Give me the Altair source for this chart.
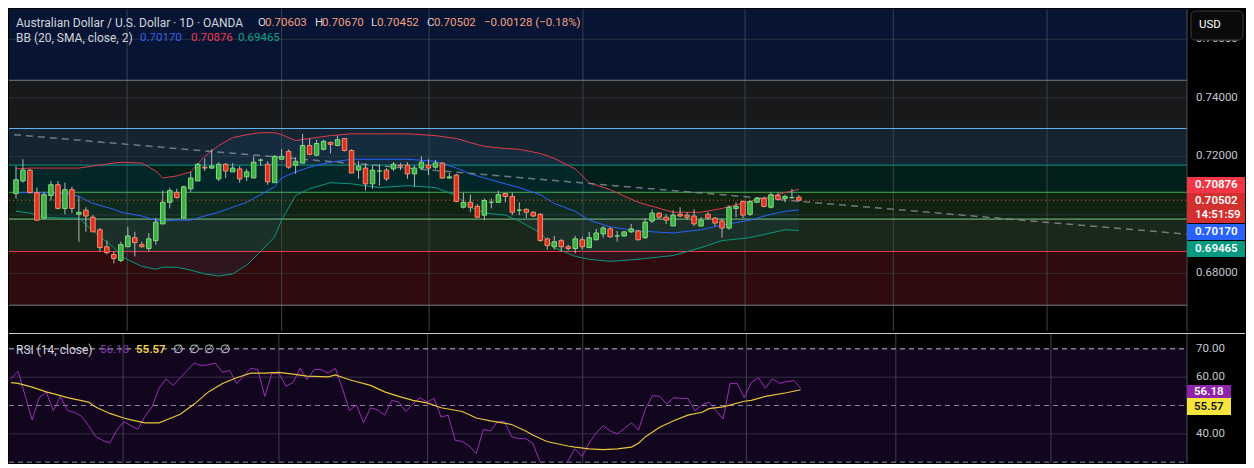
import altair as alt
import pandas as pd

# ---------------- data ----------------
opens = [0.7073, 0.7116, 0.7153, 0.7076, 0.6989, 0.7066, 0.7103, 0.7022, 0.7086, 0.7002,
         0.7016, 0.6992, 0.6949, 0.6891, 0.6865, 0.6844, 0.6891, 0.6922, 0.6898, 0.6885,
         0.6912, 0.6969, 0.7043, 0.7076, 0.6989, 0.7089, 0.7116, 0.7163, 0.7160, 0.7123,
         0.7173, 0.7147, 0.7157, 0.7130, 0.7126, 0.7187, 0.7173, 0.7110, 0.7190, 0.7217,
         0.7170, 0.7177, 0.7237, 0.7204, 0.7224, 0.7247, 0.7237, 0.7261, 0.7220, 0.7153,
         0.7160, 0.7106, 0.7150, 0.7153, 0.7157, 0.7170, 0.7170, 0.7140, 0.7160, 0.7170,
         0.7163, 0.7177, 0.7126, 0.7136, 0.7026, 0.7043, 0.7029, 0.6999, 0.7043, 0.7043,
         0.7073, 0.7063, 0.7016, 0.7019, 0.7009, 0.7002, 0.6918, 0.6891, 0.6912, 0.6891,
         0.6885, 0.6915, 0.6888, 0.6915, 0.6935, 0.6952, 0.6928, 0.6928, 0.6942, 0.6945,
         0.6922, 0.6979, 0.7006, 0.6992, 0.6962, 0.7002, 0.6999, 0.6996, 0.6962, 0.7002,
         0.6989, 0.6979, 0.6955, 0.7022, 0.7046, 0.7002, 0.7043, 0.7056, 0.7026, 0.7066,
         0.7056, 0.7059, 0.70603]
highs = [0.7167, 0.7190, 0.7157, 0.7093, 0.7079, 0.7116, 0.7116, 0.7110, 0.7096, 0.7063,
         0.7026, 0.6999, 0.6955, 0.6912, 0.6875, 0.6908, 0.6959, 0.6942, 0.6908, 0.6938,
         0.6989, 0.7083, 0.7093, 0.7089, 0.7100, 0.7147, 0.7177, 0.7193, 0.7224, 0.7180,
         0.7177, 0.7177, 0.7167, 0.7157, 0.7200, 0.7193, 0.7183, 0.7204, 0.7224, 0.7224,
         0.7197, 0.7277, 0.7261, 0.7257, 0.7257, 0.7251, 0.7271, 0.7261, 0.7224, 0.7183,
         0.7177, 0.7170, 0.7173, 0.7160, 0.7180, 0.7177, 0.7180, 0.7170, 0.7200, 0.7190,
         0.7187, 0.7180, 0.7143, 0.7140, 0.7076, 0.7069, 0.7036, 0.7056, 0.7056, 0.7083,
         0.7076, 0.7076, 0.7043, 0.7022, 0.7012, 0.7006, 0.6922, 0.6928, 0.6918, 0.6898,
         0.6928, 0.6925, 0.6942, 0.6952, 0.6962, 0.6959, 0.6945, 0.6945, 0.6969, 0.6949,
         0.6989, 0.7019, 0.7009, 0.7002, 0.7016, 0.7026, 0.7009, 0.7019, 0.6992, 0.7009,
         0.6992, 0.6989, 0.7033, 0.7043, 0.7049, 0.7049, 0.7059, 0.7063, 0.7076, 0.7076,
         0.7069, 0.7089, 0.70670]
lows = [0.7056, 0.7110, 0.7073, 0.6979, 0.6985, 0.7049, 0.7019, 0.7002, 0.7006, 0.6908,
        0.6942, 0.6942, 0.6875, 0.6865, 0.6834, 0.6838, 0.6891, 0.6858, 0.6888, 0.6875,
        0.6898, 0.6969, 0.7022, 0.7056, 0.6989, 0.7079, 0.7116, 0.7150, 0.7157, 0.7116,
        0.7126, 0.7147, 0.7110, 0.7116, 0.7126, 0.7167, 0.7103, 0.7110, 0.7190, 0.7157,
        0.7140, 0.7177, 0.7204, 0.7200, 0.7220, 0.7210, 0.7234, 0.7217, 0.7143, 0.7123,
        0.7083, 0.7089, 0.7100, 0.7116, 0.7150, 0.7153, 0.7123, 0.7096, 0.7153, 0.7136,
        0.7157, 0.7123, 0.7123, 0.7043, 0.7022, 0.7009, 0.6989, 0.6982, 0.7022, 0.7043,
        0.7043, 0.6999, 0.6999, 0.6989, 0.6992, 0.6908, 0.6881, 0.6881, 0.6875, 0.6878,
        0.6868, 0.6881, 0.6888, 0.6912, 0.6922, 0.6922, 0.6908, 0.6925, 0.6938, 0.6912,
        0.6918, 0.6972, 0.6985, 0.6969, 0.6962, 0.6992, 0.6982, 0.6962, 0.6959, 0.6985,
        0.6962, 0.6922, 0.6949, 0.6992, 0.6989, 0.6996, 0.7043, 0.7026, 0.7022, 0.7049,
        0.7043, 0.7056, 0.70452]
closes = [0.7120, 0.7153, 0.7076, 0.6982, 0.7069, 0.7103, 0.7022, 0.7086, 0.7022, 0.7009,
          0.6996, 0.6942, 0.6888, 0.6871, 0.6851, 0.6898, 0.6928, 0.6905, 0.6891, 0.6918,
          0.6975, 0.7043, 0.7083, 0.7059, 0.7096, 0.7126, 0.7173, 0.7160, 0.7167, 0.7173,
          0.7150, 0.7160, 0.7123, 0.7147, 0.7180, 0.7187, 0.7113, 0.7200, 0.7200, 0.7163,
          0.7183, 0.7237, 0.7207, 0.7244, 0.7251, 0.7241, 0.7257, 0.7220, 0.7143, 0.7167,
          0.7106, 0.7153, 0.7150, 0.7123, 0.7173, 0.7167, 0.7140, 0.7160, 0.7180, 0.7160,
          0.7177, 0.7126, 0.7130, 0.7046, 0.7043, 0.7026, 0.6992, 0.7049, 0.7043, 0.7069,
          0.7063, 0.7009, 0.7016, 0.7009, 0.6996, 0.6912, 0.6895, 0.6908, 0.6891, 0.6885,
          0.6918, 0.6891, 0.6922, 0.6938, 0.6955, 0.6925, 0.6928, 0.6942, 0.6952, 0.6915,
          0.6975, 0.7006, 0.6992, 0.6982, 0.6999, 0.6996, 0.6992, 0.6969, 0.6982, 0.6989,
          0.6972, 0.6955, 0.7026, 0.7029, 0.6999, 0.7046, 0.7056, 0.7029, 0.7069, 0.7053,
          0.7063, 0.7059, 0.70502]

rsi_values = [59.4, 62.1, 53.5, 44.9, 52.8, 54.8, 48.2, 53.2, 48.2, 47.6,
              46.2, 42.9, 39.0, 37.7, 36.7, 41.3, 44.3, 42.9, 41.6, 46.2,
              49.5, 56.1, 59.4, 57.1, 59.8, 62.4, 65.0, 64.1, 64.4, 65.0,
              61.7, 62.4, 57.8, 60.4, 63.1, 62.7, 53.2, 61.4, 61.4, 56.8,
              58.1, 63.1, 59.1, 62.7, 62.7, 61.4, 63.1, 56.1, 48.2, 50.2,
              43.9, 49.2, 48.5, 46.6, 51.8, 51.2, 47.9, 50.5, 52.8, 51.2,
              52.5, 45.9, 46.6, 37.7, 37.3, 35.7, 33.0, 41.6, 41.0, 44.3,
              44.3, 39.0, 38.3, 38.3, 36.7, 30.4, 28.4, 26.4, 27.4, 30.4,
              34.7, 32.0, 36.7, 40.3, 42.9, 41.0, 40.0, 41.9, 43.9, 41.3,
              48.9, 53.5, 53.2, 50.5, 52.8, 52.5, 52.5, 48.2, 50.2, 51.2,
              48.2, 45.2, 57.8, 57.8, 52.8, 58.1, 59.8, 56.1, 59.4, 57.8,
              58.4, 58.8, 56.18]

rsi_ma_idx = [0, 1, 3, 5, 7, 8, 11, 12, 14, 16, 17, 19, 21, 22, 24, 26, 28, 30, 32, 34,
              36, 38, 40, 42, 45, 46, 48, 51, 53, 55, 57, 59, 61, 64, 66, 68, 71, 73, 74, 76,
              79, 80, 82, 84, 86, 88, 89, 90, 92, 94, 96, 98, 99, 101, 104, 105, 107, 110, 112]
rsi_ma_val = [58.1, 57.8, 56.5, 54.8, 53.5, 52.8, 51.2, 49.5, 47.2, 45.6, 44.9, 43.9, 43.9, 44.9, 46.9,
              50.5, 54.8, 57.8, 59.8, 61.4, 61.4, 61.7, 61.1, 60.4, 60.1, 60.8, 59.1, 57.1, 54.8, 53.2,
              51.8, 50.9, 49.2, 47.9, 45.6, 44.6, 43.3, 41.0, 39.6, 37.3, 35.7, 35.3, 34.7, 34.4, 34.7,
              35.3, 36.7, 39.0, 42.3, 44.6, 46.6, 47.6, 48.9, 49.5, 51.5, 51.8, 53.2, 54.5, 55.57]

bb_idx = [0, 2, 4, 7, 9, 11, 14, 15, 18, 20, 21, 23, 25, 27, 29, 31, 33, 35, 37, 38,
          40, 42, 45, 48, 52, 56, 60, 63, 65, 67, 70, 72, 75, 77, 80, 82, 85, 89, 94, 98,
          101, 105, 108, 110, 112]
bb_upper = [0.7157, 0.7160, 0.7160, 0.7160, 0.7160, 0.7167, 0.7177, 0.7180, 0.7177, 0.7150,
            0.7126, 0.7133, 0.7147, 0.7200, 0.7237, 0.7264, 0.7274, 0.7281, 0.7281, 0.7274,
            0.7254, 0.7261, 0.7271, 0.7277, 0.7277, 0.7277, 0.7271, 0.7261, 0.7247, 0.7234,
            0.7227, 0.7224, 0.7210, 0.7193, 0.7157, 0.7110, 0.7086, 0.7043, 0.7009, 0.7009,
            0.7022, 0.7046, 0.7063, 0.7076, 0.70876]
bb_mid = [0.7076, 0.7076, 0.7076, 0.7073, 0.7063, 0.7039, 0.7019, 0.7009, 0.6996, 0.6982,
          0.6979, 0.6982, 0.6982, 0.6996, 0.7009, 0.7026, 0.7043, 0.7069, 0.7096, 0.7126,
          0.7147, 0.7163, 0.7180, 0.7190, 0.7190, 0.7190, 0.7183, 0.7160, 0.7140, 0.7126,
          0.7106, 0.7093, 0.7069, 0.7039, 0.7012, 0.6982, 0.6959, 0.6945, 0.6938, 0.6949,
          0.6965, 0.6982, 0.7002, 0.7012, 0.70170]
bb_lower = [0.7012, 0.7006, 0.6992, 0.6989, 0.6989, 0.6945, 0.6888, 0.6858, 0.6824, 0.6814,
            0.6821, 0.6821, 0.6811, 0.6798, 0.6791, 0.6798, 0.6828, 0.6875, 0.6925, 0.6982,
            0.7066, 0.7089, 0.7110, 0.7106, 0.7093, 0.7100, 0.7093, 0.7066, 0.7026, 0.7006,
            0.6999, 0.6979, 0.6938, 0.6888, 0.6858, 0.6848, 0.6841, 0.6848, 0.6861, 0.6888,
            0.6912, 0.6922, 0.6938, 0.6949, 0.69465]

fib_levels = [0.66912, 0.68748, 0.69856, 0.70772, 0.71701, 0.72953, 0.74600]
fib_top = 0.79351
fib_line_colors = ["#787B86", "#F23645", "#81C784", "#4CAF50", "#089981", "#64B5F6", "#787B86"]
fib_zone_colors = ["#F23645", "#81C784", "#4CAF50", "#089981", "#64B5F6", "#787B86", "#2962FF"]

trend_idx = [-0.284, 168.5]
trend_price = [0.7274, 0.6932]

vgrid_idx = [15.9, 38.0, 59.1, 81.1, 104.3, 125.5, 147.5]
price_grid = [0.68, 0.70, 0.72, 0.74, 0.76]
price_ticks = [0.68, 0.72, 0.74, 0.76]          # 0.70000 is hidden behind the price tags
rsi_ticks = [70, 60, 40]
rsi_dashed = [70, 50, 30]
rsi_grid = [60, 40]
last_close = 0.70502

title_main = "Australian Dollar / U.S. Dollar · 1D · OANDA"
ohlc_letters = ["O", "H", "L", "C"]
ohlc_text = ["0.70603", "0.70670", "0.70452", "0.70502"]
change_text = "−0.00128 (−0.18%)"
bb_title = "BB (20, SMA, close, 2)"
bb_text = ["0.70170", "0.70876", "0.69465"]
rsi_title = "RSI (14, close)"
rsi_text = ["56.18", "55.57"]
price_tags = ["0.70876", "0.70502", "14:51:59", "0.70170", "0.69465"]

# ---------------- layout ----------------
W, H1, H2 = 1178, 322, 130
FONT = "Roboto"
FS = 11.5
xs = alt.Scale(domain=[-0.284, 166.8], nice=False, zero=False)
ys = alt.Scale(domain=[0.66030, 0.77037], nice=False, zero=False)
yr = alt.Scale(domain=[29.7, 75.6], nice=False, zero=False)
one = pd.DataFrame({"_": [0]})
AXIS_TXT = "#c3c6ce"
AXIS_LINE = "#4a4e59"


def txt(s, px, py, color, size=FS, weight="normal", align="left"):
    return alt.Chart(one).mark_text(
        text=s, align=align, baseline="middle", font=FONT, fontSize=size,
        fontWeight=weight, color=color, clip=False
    ).encode(x=alt.value(px), y=alt.value(py))


def box(x0, x1, y0, y1, fill, stroke=None, radius=0):
    kw = dict(color=fill, clip=False, cornerRadius=radius)
    if stroke:
        kw.update(stroke=stroke, strokeWidth=1)
    return alt.Chart(one).mark_rect(**kw).encode(
        x=alt.value(x0), x2=alt.value(x1), y=alt.value(y0), y2=alt.value(y1))


X = alt.X("i:Q", scale=xs, axis=None)


def YP(field):
    return alt.Y(field, scale=ys, axis=None)


def YR(field):
    return alt.Y(field, scale=yr, axis=None)


zones_df = pd.DataFrame({"lo": fib_levels, "hi": fib_levels[1:] + [fib_top],
                         "col": fib_zone_colors})
zones = alt.Chart(zones_df).mark_rect(opacity=0.2, clip=True).encode(
    x=alt.value(0), x2=alt.value(W), y=YP("lo:Q"), y2="hi:Q",
    color=alt.Color("col:N", scale=None))

grid_h = alt.Chart(pd.DataFrame({"p": price_grid})).mark_rule(
    color="#363a45", strokeWidth=1, opacity=0.7, clip=True).encode(
    y=YP("p:Q"), x=alt.value(0), x2=alt.value(W))

grid_v = alt.Chart(pd.DataFrame({"i": vgrid_idx})).mark_rule(
    color="#3d414c", strokeWidth=1).encode(x=X)

fib_lines = alt.Chart(pd.DataFrame({"p": fib_levels, "col": fib_line_colors})).mark_rule(
    strokeWidth=1).encode(
    y=YP("p:Q"), x=alt.value(0), x2=alt.value(W), color=alt.Color("col:N", scale=None))

bb = pd.DataFrame({"i": bb_idx, "u": bb_upper, "m": bb_mid, "l": bb_lower})
bb_fill = alt.Chart(bb).mark_area(color="#2196F3", opacity=0.07).encode(
    x=X, y=YP("u:Q"), y2="l:Q")
bb_u = alt.Chart(bb).mark_line(color="#E03A4E", strokeWidth=1).encode(x=X, y=YP("u:Q"))
bb_m = alt.Chart(bb).mark_line(color="#2962FF", strokeWidth=1).encode(x=X, y=YP("m:Q"))
bb_l = alt.Chart(bb).mark_line(color="#089981", strokeWidth=1).encode(x=X, y=YP("l:Q"))

trend = alt.Chart(pd.DataFrame({"i": trend_idx, "p": trend_price})).mark_line(
    color="#8a8d96", strokeWidth=1.5, strokeDash=[7, 5], opacity=0.8, clip=True).encode(
    x=X, y=YP("p:Q"))

price_line = alt.Chart(pd.DataFrame({"p": [last_close]})).mark_rule(
    color="#f0553f", strokeDash=[1, 3], strokeWidth=1).encode(
    y=YP("p:Q"), x=alt.value(0), x2=alt.value(W))

cd = pd.DataFrame({"i": list(range(len(opens))), "o": opens, "h": highs, "l": lows, "c": closes})
wicks = alt.Chart(cd).mark_rule(color="#b2b5be", strokeWidth=1).encode(
    x=X, y=YP("l:Q"), y2="h:Q")
up = alt.datum.c >= alt.datum.o
bodies = alt.Chart(cd).mark_bar(size=4.5, strokeWidth=1).encode(
    x=X, y=YP("o:Q"), y2="c:Q",
    color=alt.condition(up, alt.value("#3fae45"), alt.value("#e0301e")),
    stroke=alt.condition(up, alt.value("#7fdc7f"), alt.value("#f58e6e")))

# right price scale: domain line + tick labels placed through the y scale
p_domain = alt.Chart(one).mark_rule(color=AXIS_LINE, strokeWidth=1, clip=False).encode(
    x=alt.value(W), y=alt.value(0), y2=alt.value(H1))
p_labels = alt.Chart(pd.DataFrame({"p": price_ticks,
                                   "t": [f"{v:.5f}" for v in price_ticks]})).mark_text(
    align="left", baseline="middle", font=FONT, fontSize=FS, color=AXIS_TXT, clip=False).encode(
    x=alt.value(W + 9), y=YP("p:Q"), text="t:N")

GRAY = "#d1d4dc"
SALMON = "#f2a07e"
header = [
    txt(title_main, 7, 14, GRAY, size=12),
    txt(ohlc_letters[0], 249, 14, GRAY), txt(ohlc_text[0], 256, 14, SALMON),
    txt(ohlc_letters[1], 306, 14, GRAY), txt(ohlc_text[1], 313, 14, SALMON),
    txt(ohlc_letters[2], 362, 14, GRAY), txt(ohlc_text[2], 368, 14, SALMON),
    txt(ohlc_letters[3], 418, 14, GRAY), txt(ohlc_text[3], 425, 14, SALMON),
    txt(change_text, 475, 14, SALMON),
    txt(bb_title, 7, 29, GRAY, size=12),
    txt(bb_text[0], 131, 29, "#2f62e8"),
    txt(bb_text[1], 182, 29, "#e8394c"),
    txt(bb_text[2], 229, 29, "#12a084"),
]

tags = [
    box(W + 4, W + 56, 2, 31, "#0a0a0a", stroke="#3a3d46", radius=4),
    txt("USD", W + 12, 16, "#ffffff", size=11.5),
    box(W, W + 58, 168, 184, "#F23645"),
    txt(price_tags[0], W + 8, 176, "#ffffff", weight=600),
    box(W, W + 58, 184, 214, "#d32f2f"),
    txt(price_tags[1], W + 8, 192, "#ffffff", weight=600),
    txt(price_tags[2], W + 8, 206, "#ffffff", weight=600),
    box(W, W + 58, 215, 231, "#2962FF"),
    txt(price_tags[3], W + 8, 223, "#ffffff", weight=600),
    box(W, W + 58, 232, 248, "#089981"),
    txt(price_tags[4], W + 8, 240, "#ffffff", weight=600),
]

top = alt.layer(zones, grid_h, grid_v, fib_lines, bb_fill, bb_u, bb_m, bb_l, trend,
                price_line, wicks, bodies, p_domain, p_labels, *header, *tags
                ).properties(width=W, height=H1)

# ---------------- RSI pane ----------------
band = alt.Chart(pd.DataFrame({"lo": [30], "hi": [70]})).mark_rect(
    color="#11061e", clip=True).encode(
    x=alt.value(0), x2=alt.value(W), y=YR("lo:Q"), y2="hi:Q")
r_grid = alt.Chart(pd.DataFrame({"v": rsi_grid})).mark_rule(color="#372f45", strokeWidth=1).encode(
    y=YR("v:Q"), x=alt.value(0), x2=alt.value(W))
r_vgrid = alt.Chart(pd.DataFrame({"i": vgrid_idx})).mark_rule(color="#3d414c", strokeWidth=1).encode(x=X)
r_dash = alt.Chart(pd.DataFrame({"v": rsi_dashed, "col": ["#c4c6cc", "#8c8698", "#8c8698"]})).mark_rule(
    strokeDash=[5, 4], strokeWidth=1, clip=True).encode(
    y=YR("v:Q"), x=alt.value(0), x2=alt.value(W), color=alt.Color("col:N", scale=None))

rd = pd.DataFrame({"i": list(range(len(rsi_values))), "r": rsi_values})
rsi_line = alt.Chart(rd).mark_line(color="#9c2fb8", strokeWidth=1, clip=True).encode(
    x=X, y=YR("r:Q"))
md = pd.DataFrame({"i": rsi_ma_idx, "m": rsi_ma_val})
ma_line = alt.Chart(md).mark_line(color="#e8c53a", strokeWidth=1.2, clip=True).encode(
    x=X, y=YR("m:Q"))

r_domain = alt.Chart(one).mark_rule(color=AXIS_LINE, strokeWidth=1, clip=False).encode(
    x=alt.value(W), y=alt.value(0), y2=alt.value(H2))
r_labels = alt.Chart(pd.DataFrame({"v": rsi_ticks,
                                   "t": [f"{v:.2f}" for v in rsi_ticks]})).mark_text(
    align="left", baseline="middle", font=FONT, fontSize=FS, color=AXIS_TXT, clip=False).encode(
    x=alt.value(W + 9), y=YR("v:Q"), text="t:N")

sep = alt.Chart(one).mark_rule(color="#c9ccd4", strokeWidth=1, clip=False).encode(
    x=alt.value(0), x2=alt.value(W + 58), y=alt.value(0.5))

r_header = [
    txt(rsi_title, 7, 17, GRAY, size=12),
    txt(rsi_text[0], 91, 17, "#8a3fb0"),
    txt(rsi_text[1], 127, 17, "#f0d048", weight=600),
    txt("∅", 164, 17, GRAY), txt("∅", 180, 17, GRAY),
    txt("∅", 195, 17, GRAY), txt("∅", 211, 17, GRAY),
]
r_tags = [
    box(W, W + 44, 52, 65, "#8e24aa"),
    txt(rsi_text[0], W + 7, 58.5, "#ffffff", weight=600),
    box(W, W + 44, 65, 82, "#f7e53b"),
    txt(rsi_text[1], W + 7, 73.5, "#131722", weight=600),
]

bottom = alt.layer(band, r_grid, r_vgrid, r_dash, rsi_line, ma_line, r_domain, r_labels, sep,
                   *r_header, *r_tags).properties(width=W, height=H2)

chart = alt.vconcat(top, bottom, spacing=0).properties(
    background="#000000", padding=0
).configure_view(stroke=None)

chart.save("out.html", embed_options={"renderer": "svg", "actions": False})
